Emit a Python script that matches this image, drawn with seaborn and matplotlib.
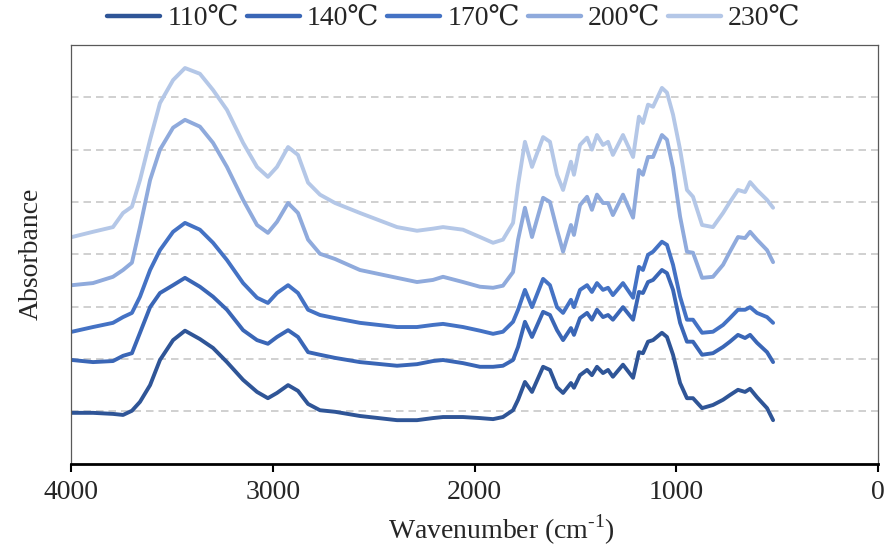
import matplotlib
matplotlib.use("Agg")
import matplotlib.pyplot as plt
import seaborn as sns
import pandas as pd

# ---- data ----
wavenumber = [3995, 3891, 3792, 3742, 3698, 3658, 3608, 3559, 3494, 3435,
              3361, 3296, 3227, 3147, 3078, 3024, 2979, 2924, 2875, 2825,
              2766, 2691, 2568, 2384, 2285, 2206, 2156, 2057, 1973, 1908,
              1859, 1809, 1784, 1750, 1715, 1660, 1626, 1591, 1561, 1522,
              1507, 1477, 1442, 1418, 1393, 1363, 1338, 1314, 1264, 1214,
              1185, 1165, 1140, 1115, 1071, 1046, 1016, 981, 947, 917,
              872, 818, 768, 734, 694, 659, 634, 600, 550, 520]

abs_110 = [0.97, 0.97, 0.95, 0.93, 1.01, 1.18, 1.50, 1.98, 2.36, 2.54,
           2.38, 2.21, 1.94, 1.60, 1.37, 1.25, 1.35, 1.50, 1.39, 1.14,
           1.02, 0.99, 0.91, 0.83, 0.83, 0.87, 0.89, 0.89, 0.87, 0.85,
           0.89, 1.02, 1.22, 1.56, 1.37, 1.85, 1.79, 1.46, 1.35, 1.54,
           1.45, 1.69, 1.79, 1.69, 1.85, 1.73, 1.79, 1.66, 1.89, 1.64,
           2.13, 2.11, 2.33, 2.36, 2.50, 2.42, 2.08, 1.54, 1.25, 1.25,
           1.06, 1.12, 1.22, 1.31, 1.41, 1.37, 1.43, 1.27, 1.06, 0.83]

abs_140 = [1.98, 1.94, 1.96, 2.06, 2.11, 2.50, 2.99, 3.26, 3.41, 3.55,
           3.38, 3.19, 2.94, 2.55, 2.36, 2.29, 2.42, 2.55, 2.42, 2.13,
           2.08, 2.02, 1.94, 1.87, 1.90, 1.96, 1.98, 1.92, 1.85, 1.85,
           1.87, 1.98, 2.23, 2.71, 2.42, 2.90, 2.84, 2.55, 2.36, 2.59,
           2.46, 2.78, 2.88, 2.75, 2.94, 2.80, 2.84, 2.75, 2.99, 2.75,
           3.28, 3.26, 3.47, 3.51, 3.70, 3.64, 3.32, 2.69, 2.33, 2.33,
           2.08, 2.11, 2.23, 2.33, 2.46, 2.40, 2.46, 2.31, 2.13, 1.94]

abs_170 = [2.52, 2.61, 2.69, 2.80, 2.88, 3.19, 3.70, 4.08, 4.43, 4.60,
           4.47, 4.22, 3.89, 3.45, 3.17, 3.07, 3.26, 3.41, 3.26, 2.94,
           2.84, 2.78, 2.69, 2.61, 2.61, 2.65, 2.67, 2.61, 2.54, 2.48,
           2.52, 2.71, 2.94, 3.32, 2.99, 3.53, 3.41, 2.99, 2.88, 3.13,
           2.99, 3.32, 3.41, 3.28, 3.45, 3.32, 3.36, 3.22, 3.45, 3.17,
           3.76, 3.70, 3.99, 4.05, 4.24, 4.18, 3.80, 3.19, 2.75, 2.75,
           2.50, 2.52, 2.65, 2.78, 2.94, 2.94, 2.99, 2.88, 2.80, 2.69]

abs_200 = [3.41, 3.45, 3.57, 3.70, 3.84, 4.52, 5.42, 6.00, 6.42, 6.57,
           6.44, 6.13, 5.67, 5.04, 4.56, 4.41, 4.62, 4.98, 4.79, 4.28,
           4.01, 3.91, 3.70, 3.55, 3.47, 3.51, 3.57, 3.47, 3.38, 3.36,
           3.40, 3.66, 4.28, 4.89, 4.33, 5.08, 5.00, 4.47, 4.05, 4.56,
           4.37, 4.94, 5.10, 4.85, 5.14, 4.98, 4.98, 4.75, 5.14, 4.70,
           5.61, 5.52, 5.86, 5.86, 6.28, 6.19, 5.65, 4.72, 4.05, 4.03,
           3.55, 3.57, 3.80, 4.05, 4.33, 4.31, 4.43, 4.28, 4.08, 3.85]

abs_230 = [4.33, 4.43, 4.52, 4.79, 4.91, 5.42, 6.19, 6.89, 7.33, 7.56,
           7.45, 7.14, 6.76, 6.13, 5.67, 5.48, 5.67, 6.05, 5.90, 5.37,
           5.14, 4.98, 4.79, 4.52, 4.45, 4.49, 4.52, 4.47, 4.33, 4.22,
           4.28, 4.60, 5.33, 6.15, 5.67, 6.24, 6.15, 5.52, 5.23, 5.77,
           5.52, 6.09, 6.23, 6.00, 6.28, 6.09, 6.15, 5.90, 6.28, 5.86,
           6.63, 6.51, 6.86, 6.82, 7.18, 7.09, 6.67, 6.00, 5.23, 5.10,
           4.56, 4.52, 4.79, 5.00, 5.23, 5.19, 5.38, 5.23, 5.04, 4.89]

series_labels = ["110℃", "140℃", "170℃", "200℃", "230℃"]
series_values = [abs_110, abs_140, abs_170, abs_200, abs_230]
series_colors = ["#2F5597", "#3A66B6", "#4472C4", "#8FAADC", "#B4C7E7"]
x_ticks = [4000, 3000, 2000, 1000, 0]

rows = []
for lab, vals in zip(series_labels, series_values):
    for w, v in zip(wavenumber, vals):
        rows.append({"Wavenumber": w, "Absorbance": v, "T": lab})
df = pd.DataFrame(rows)

sns.set_theme(style="white")
plt.rcParams["font.family"] = ["Liberation Serif", "DejaVu Serif", "DejaVu Sans"]
plt.rcParams["mathtext.fontset"] = "custom"
plt.rcParams["mathtext.rm"] = "Liberation Serif"

fig = plt.figure(figsize=(8.85, 5.52), dpi=100)
ax = fig.add_axes([71 / 885, 1 - 463.6 / 552, 807 / 885, 418.6 / 552])

sns.lineplot(data=df, x="Wavenumber", y="Absorbance", hue="T",
             hue_order=series_labels, palette=dict(zip(series_labels, series_colors)),
             linewidth=2.8, estimator=None, sort=False, ax=ax)

ax.set_xlim(4000, 0)
ax.set_ylim(0, 8)
ax.set_xticks(x_ticks)
ax.set_xticklabels([str(t) for t in x_ticks])
ax.set_yticks([1, 2, 3, 4, 5, 6, 7])
ax.yaxis.grid(True, linestyle=(0, (4.5, 3)), color="#c8c8c8", linewidth=1.2)
ax.xaxis.grid(False)
ax.tick_params(axis="y", left=False, labelleft=False)
ax.tick_params(axis="x", direction="out", length=6, width=1.5, color="black",
               labelsize=20, pad=6, bottom=True)

for side in ["top", "left", "right"]:
    ax.spines[side].set_color("#595959")
    ax.spines[side].set_linewidth(0.9)
ax.spines["bottom"].set_color("black")
ax.spines["bottom"].set_linewidth(2.0)

ax.set_xlabel("Wavenumber (cm$^{\\mathregular{\u20101}}$)", fontsize=20)
ax.xaxis.set_label_coords((501 - 71) / 807, -(513 - 463.6) / 418.6)
ax.xaxis.label.set_va("top")
ax.set_ylabel("Absorbance", fontsize=20)
ax.yaxis.set_label_coords(-(71 - 44) / 807, 0.5)

handles, labels = ax.get_legend_handles_labels()
if ax.get_legend() is not None:
    ax.get_legend().remove()
leg = fig.legend(handles, labels, loc="center", bbox_to_anchor=(454 / 885, 1 - 19 / 552),
                 ncol=5, frameon=False, fontsize=20, handlelength=1.9,
                 handletextpad=0.25, columnspacing=0.3)
for h in leg.get_lines():
    h.set_linewidth(3.2)

fig.savefig("out.png", dpi=100)
